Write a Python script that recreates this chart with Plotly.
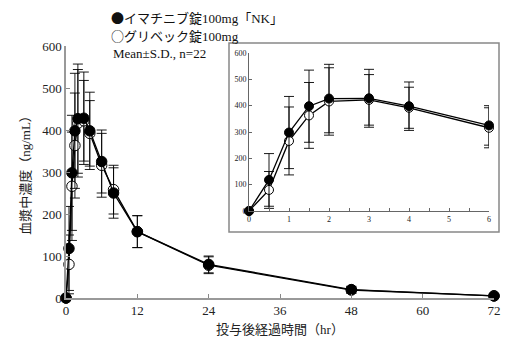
import plotly.graph_objects as go

# Data
time_h = [0, 0.5, 1, 1.5, 2, 3, 4, 6, 8, 12, 24, 48, 72]
nk_mean = [0, 118, 298, 398, 427, 428, 398, 325, 250, 158, 80, 20, 5]
nk_sd = [0, 100, 137, 137, 130, 110, 92, 75, 60, 38, 20, 8, 2]
gl_mean = [0, 80, 266, 363, 416, 422, 392, 316, 258, 158, 78, 19, 5]
gl_sd = [0, 70, 129, 125, 128, 96, 78, 76, 58, 38, 20, 8, 2]

inset_time = time_h[:8]

name_nk = "イマチニブ錠100mg「NK」"
name_gl = "グリベック錠100mg"
legend_syms = ["●", "○", ""]
legend_texts = [name_nk, name_gl, "Mean±S.D., n=22"]
x_title = "投与後経過時間（hr）"
y_title = "血漿中濃度（ng/mL）"
main_xticks = [0, 12, 24, 36, 48, 60, 72]
main_yticks = [0, 100, 200, 300, 400, 500, 600]
inset_xticks = [0, 1, 2, 3, 4, 5, 6]

FONT = "Liberation Serif, Noto Sans CJK JP, serif"
CJK = "Noto Sans CJK JP"

fig = go.Figure()

def add_series(x, m, sd, fill, name, xa, ya, msize, cap):
    fig.add_trace(go.Scatter(
        x=x, y=m, name=name, mode="lines+markers",
        xaxis=xa, yaxis=ya, cliponaxis=False, showlegend=False,
        line=dict(color="black", width=1.3),
        marker=dict(size=msize, color=fill, line=dict(color="black", width=1)),
        error_y=dict(type="data", array=sd, visible=True, color="black",
                     thickness=0.9, width=cap),
    ))

# main chart
add_series(time_h, gl_mean, gl_sd, "white", name_gl, "x", "y", 10.5, 5)
add_series(time_h, nk_mean, nk_sd, "black", name_nk, "x", "y", 10.5, 5)
# inset
n = len(inset_time)
add_series(inset_time, gl_mean[:n], gl_sd[:n], "white", name_gl, "x2", "y2", 9, 5)
add_series(inset_time, nk_mean[:n], nk_sd[:n], "black", name_nk, "x2", "y2", 9, 5)

L, R, T, B = 66, 24, 46, 53
W, H = 518, 351
pw = W - L - R
ph = H - T - B

def px(xpix):
    return (xpix - L) / pw

def py(ypix):
    return (H - B - ypix) / ph

fig.update_layout(
    width=W, height=H,
    margin=dict(l=L, r=R, t=T, b=B),
    paper_bgcolor="white", plot_bgcolor="white",
    font=dict(family=FONT, color="#222", size=13),
    xaxis=dict(range=[0, 72], tickvals=main_xticks, showgrid=False, zeroline=False,
               showline=True, linecolor="#999", linewidth=1.5,
               ticks="inside", ticklen=4, tickcolor="#888",
               tickfont=dict(size=13, family=FONT),
               title=dict(text=x_title, font=dict(size=13, family=FONT), standoff=8)),
    yaxis=dict(range=[0, 600], tickvals=main_yticks, showgrid=False, zeroline=False,
               showline=True, linecolor="#999", linewidth=1.5,
               ticks="inside", ticklen=4, tickcolor="#888",
               tickfont=dict(size=13, family=FONT),
               title=dict(text=y_title, font=dict(size=13, family=FONT), standoff=9)),
    xaxis2=dict(domain=[px(249), px(489)], anchor="y2", range=[0, 6],
                tickvals=inset_xticks, showgrid=False, zeroline=False,
                showline=True, linecolor="#666", linewidth=1,
                ticks="inside", ticklen=3, tickcolor="#666",
                minor=dict(dtick=0.5, ticks="inside", ticklen=3, tickcolor="#666"),
                tickfont=dict(size=8, family=FONT)),
    yaxis2=dict(domain=[py(211), py(53)], anchor="x2", range=[0, 600],
                tickvals=main_yticks, showgrid=False, zeroline=False,
                showline=True, linecolor="#666", linewidth=1,
                ticks="inside", ticklen=3, tickcolor="#666",
                tickfont=dict(size=8, family=FONT)),
    shapes=[dict(type="rect", xref="paper", yref="paper",
                 x0=px(229), x1=px(499), y0=py(232), y1=py(43),
                 line=dict(color="#888", width=1.5), fillcolor="white", layer="below")],
)

ann_y = [18, 36, 53]
ann_x = [109, 109, 111]
for sym, txt, xx, yy in zip(legend_syms, legend_texts, ann_x, ann_y):
    full = (f'<span style="font-family:{CJK}">{sym}</span>' if sym else "") + txt
    fig.add_annotation(text=full, xref="paper", yref="paper", x=px(xx), y=py(yy),
                       xanchor="left", yanchor="middle", showarrow=False,
                       font=dict(size=13, family=FONT, color="#111"))

fig.write_html("out.html")
